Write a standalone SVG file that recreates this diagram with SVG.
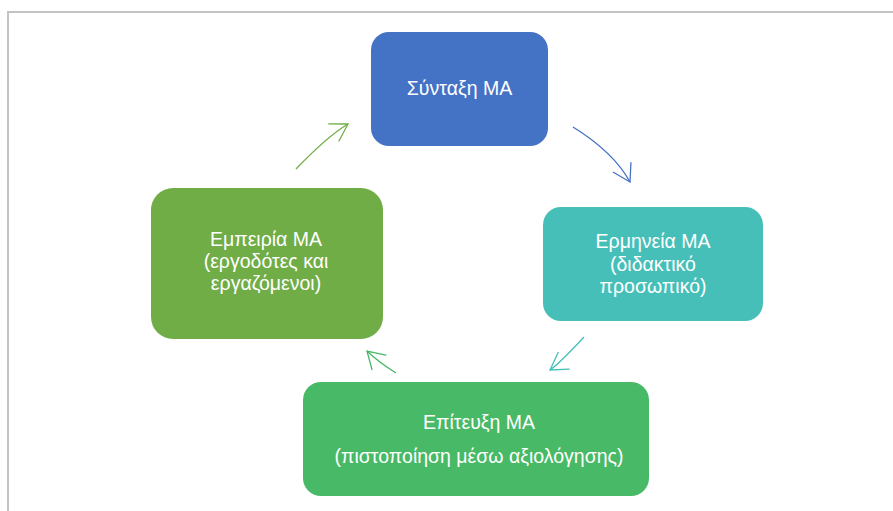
<svg xmlns="http://www.w3.org/2000/svg" width="893" height="511" viewBox="0 0 893 511">
<style>
.frame{fill:none;stroke:#c3c3c3;stroke-width:2}
.box{stroke:none}
.lbl{font-family:"Liberation Sans","Arial","DejaVu Sans",sans-serif;font-size:19.5px;fill:#ffffff;text-anchor:middle}
.arr{fill:none;stroke-width:1.3}
.head{fill:none;stroke-width:1.3;stroke-linecap:round;stroke-linejoin:miter}
</style>
<defs>
<marker id="mOlive" markerUnits="userSpaceOnUse" viewBox="-1 -1 20 22" refX="16.5" refY="10" markerWidth="20" markerHeight="22" orient="auto"><path d="M0,0 L16.5,10 L0,20" class="head" stroke="#70AD47"/></marker>
<marker id="mBlue" markerUnits="userSpaceOnUse" viewBox="-1 -1 20 22" refX="16.5" refY="10" markerWidth="20" markerHeight="22" orient="auto"><path d="M0,0 L16.5,10 L0,20" class="head" stroke="#4472C4"/></marker>
<marker id="mTeal" markerUnits="userSpaceOnUse" viewBox="-1 -1 20 22" refX="16.5" refY="10" markerWidth="20" markerHeight="22" orient="auto"><path d="M0,0 L16.5,10 L0,20" class="head" stroke="#46BFB9"/></marker>
<marker id="mGreen" markerUnits="userSpaceOnUse" viewBox="-1 -1 20 22" refX="16.5" refY="10" markerWidth="20" markerHeight="22" orient="auto"><path d="M0,0 L16.5,10 L0,20" class="head" stroke="#48B966"/></marker>
</defs>
<rect x="0" y="0" width="893" height="511" fill="#ffffff"/>
<path class="frame" d="M8,520 L8,12 L900,12"/>
<g id="connectors">
<path class="arr" stroke="#4472C4" d="M573,127 Q614,152.5 630,182" marker-end="url(#mBlue)"/>
<path class="arr" stroke="#46BFB9" d="M584,337 Q558.8,364.1 550,370" marker-end="url(#mTeal)"/>
<path class="arr" stroke="#48B966" d="M396,373 Q378.7,362.2 367,351" marker-end="url(#mGreen)"/>
<path class="arr" stroke="#70AD47" d="M296,169 Q327.5,136.2 348,124" marker-end="url(#mOlive)"/>
</g>
<g id="node-syntaxi">
<rect class="box" x="371" y="32" width="177" height="114" rx="18" fill="#4472C4"/>
<text class="lbl" x="459.5" y="95">Σύνταξη ΜΑ</text>
</g>
<g id="node-ermineia">
<rect class="box" x="543" y="207" width="220" height="114" rx="18" fill="#46BFB9"/>
<text class="lbl" x="653" y="248">Ερμηνεία ΜΑ</text>
<text class="lbl" x="653" y="270.5">(διδακτικό</text>
<text class="lbl" x="653" y="293">προσωπικό)</text>
</g>
<g id="node-epiteuxi">
<rect class="box" x="303" y="382" width="346" height="114" rx="18" fill="#48B966"/>
<text class="lbl" x="479" y="429">Επίτευξη ΜΑ</text>
<text class="lbl" x="479" y="463">(πιστοποίηση μέσω αξιολόγησης)</text>
</g>
<g id="node-empeiria">
<rect class="box" x="151" y="188" width="232" height="151" rx="22" fill="#70AD47"/>
<text class="lbl" x="266" y="246">Εμπειρία ΜΑ</text>
<text class="lbl" x="266" y="268">(εργοδότες και</text>
<text class="lbl" x="266" y="290">εργαζόμενοι)</text>
</g>
</svg>
